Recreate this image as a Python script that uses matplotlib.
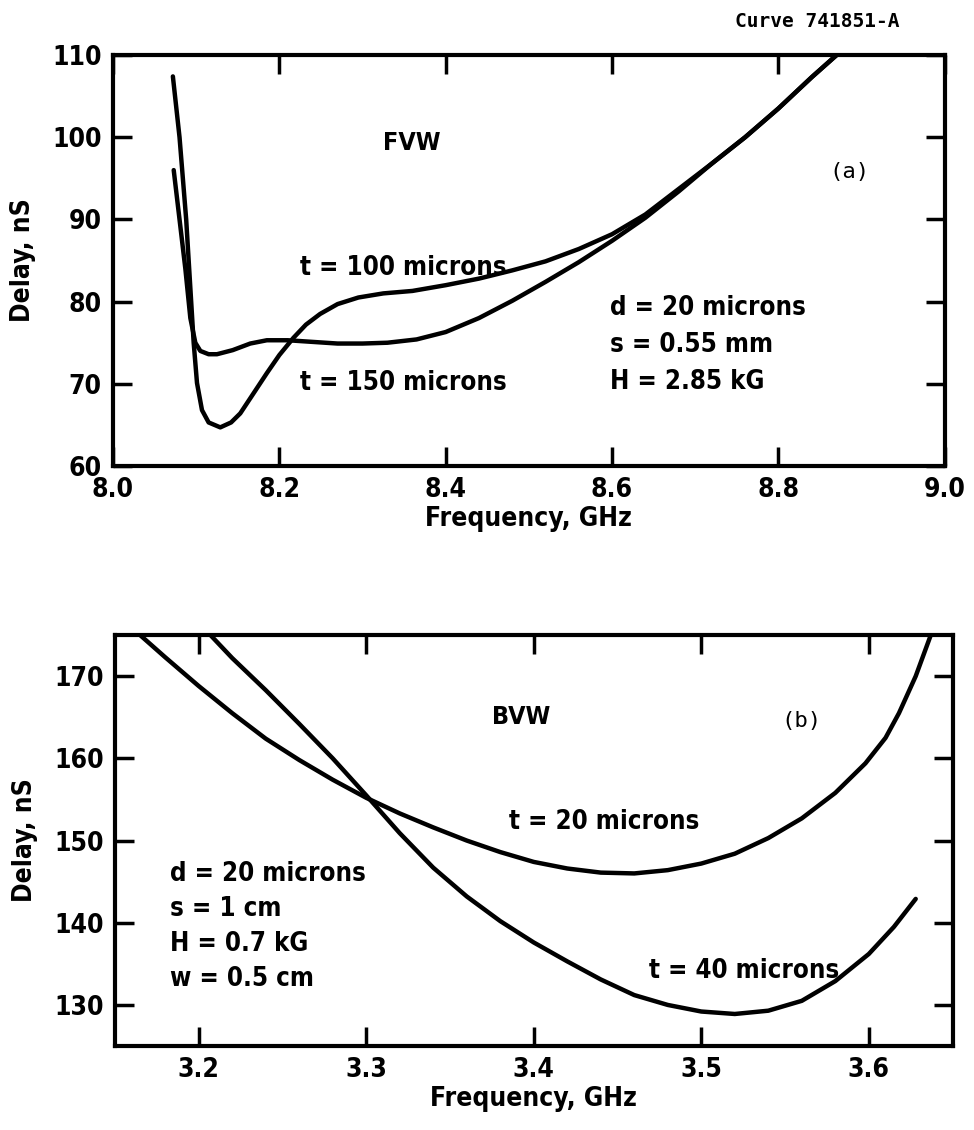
import matplotlib.pyplot as plt

# panel (a): forward volume wave delay vs frequency
freq_a1 = [8.072, 8.080, 8.088, 8.094, 8.097, 8.101, 8.107, 8.115, 8.129, 8.142,
           8.153, 8.170, 8.185, 8.200, 8.217, 8.232, 8.249, 8.270, 8.295, 8.325,
           8.360, 8.400, 8.440, 8.480, 8.520, 8.560, 8.600, 8.640, 8.680, 8.720,
           8.760, 8.800, 8.840, 8.870]
delay_a1 = [107.4, 100.0, 90.0, 80.0, 75.0, 70.1, 66.8, 65.3, 64.7, 65.3,
            66.4, 69.0, 71.3, 73.5, 75.6, 77.2, 78.5, 79.7, 80.5, 81.0,
            81.3, 82.0, 82.8, 83.8, 84.9, 86.4, 88.2, 90.6, 93.7, 96.8,
            100.0, 103.5, 107.3, 110.0]

freq_a2 = [8.073, 8.080, 8.087, 8.093, 8.099, 8.105, 8.115, 8.125, 8.144, 8.165,
           8.185, 8.210, 8.240, 8.270, 8.300, 8.330, 8.365, 8.400, 8.440, 8.480,
           8.520, 8.560, 8.600, 8.640, 8.680, 8.720, 8.760, 8.800, 8.840, 8.870]
delay_a2 = [96.0, 90.0, 84.0, 78.0, 75.0, 74.0, 73.6, 73.6, 74.1, 74.9,
            75.3, 75.3, 75.1, 74.9, 74.9, 75.0, 75.4, 76.3, 78.0, 80.1,
            82.4, 84.8, 87.4, 90.2, 93.4, 96.8, 100.0, 103.5, 107.3, 110.0]

# panel (b): backward volume wave delay vs frequency
freq_b20 = [3.165, 3.180, 3.200, 3.220, 3.240, 3.260, 3.280, 3.300, 3.320, 3.340,
            3.360, 3.380, 3.400, 3.420, 3.440, 3.460, 3.480, 3.500, 3.520, 3.540,
            3.560, 3.580, 3.598, 3.610, 3.618, 3.628, 3.637]
delay_b20 = [175.0, 172.3, 168.8, 165.5, 162.4, 159.8, 157.4, 155.2, 153.3, 151.6,
             150.0, 148.6, 147.4, 146.6, 146.1, 146.0, 146.4, 147.2, 148.4, 150.3,
             152.7, 155.8, 159.4, 162.5, 165.5, 170.0, 175.0]

freq_b40 = [3.207, 3.220, 3.240, 3.260, 3.280, 3.300, 3.320, 3.340, 3.360, 3.380,
            3.400, 3.420, 3.440, 3.460, 3.480, 3.500, 3.520, 3.540, 3.560, 3.580,
            3.600, 3.615, 3.628]
delay_b40 = [175.0, 172.2, 168.3, 164.2, 160.0, 155.5, 150.9, 146.7, 143.2, 140.2,
             137.6, 135.3, 133.1, 131.2, 130.0, 129.2, 128.9, 129.3, 130.5, 132.9,
             136.2, 139.5, 142.9]

xticks_a = [8.0, 8.2, 8.4, 8.6, 8.8, 9.0]
yticks_a = [60, 70, 80, 90, 100, 110]
xticks_b = [3.2, 3.3, 3.4, 3.5, 3.6]
yticks_b = [130, 140, 150, 160, 170]

plt.rcParams['font.family'] = ['DejaVu Sans']
plt.rcParams['font.stretch'] = 'condensed'
plt.rcParams['font.weight'] = 'bold'

fig = plt.figure(figsize=(9.74, 11.3), dpi=100)
ax1 = fig.add_axes([0.116, 0.5876, 0.854, 0.3637])
ax2 = fig.add_axes([0.118, 0.0743, 0.860, 0.3637])

lw = 3.2


def style(ax):
    for sp in ax.spines.values():
        sp.set_linewidth(3.0)
    ax.tick_params(direction='in', length=14, width=2.5, top=True, right=True,
                   labelsize=19, pad=8)
    for lab in ax.get_xticklabels() + ax.get_yticklabels():
        lab.set_fontweight('bold')
    ax.set_xlabel('Frequency, GHz', fontsize=19, fontweight='bold', labelpad=2)
    ax.set_ylabel('Delay, nS', fontsize=19, fontweight='bold', labelpad=12)


ax1.plot(freq_a1, delay_a1, color='black', lw=lw, solid_capstyle='round')
ax1.plot(freq_a2, delay_a2, color='black', lw=lw, solid_capstyle='round')
ax1.set_xlim(8.0, 9.0)
ax1.set_ylim(60, 110)
ax1.set_xticks(xticks_a)
ax1.set_yticks(yticks_a)
style(ax1)

ax1.text(8.359, 99.3, 'FVW', fontsize=18, ha='center', va='center')
ax1.text(8.225, 84.1, 't = 100 microns', fontsize=18.5, va='center')
ax1.text(8.225, 70.1, 't = 150 microns', fontsize=18.5, va='center')
ax1.text(8.597, 74.7, 'd = 20 microns\ns = 0.55 mm\nH = 2.85 kG', fontsize=18.5,
         va='center', linespacing=1.55)
ax1.text(8.885, 95.8, '(a)', fontsize=16, ha='center', va='center',
         family='DejaVu Sans Mono', fontweight='normal')

ax2.plot(freq_b20, delay_b20, color='black', lw=lw, solid_capstyle='round')
ax2.plot(freq_b40, delay_b40, color='black', lw=lw, solid_capstyle='round')
ax2.set_xlim(3.15, 3.65)
ax2.set_ylim(125, 175)
ax2.set_xticks(xticks_b)
ax2.set_yticks(yticks_b)
style(ax2)

ax2.text(3.3925, 165.0, 'BVW', fontsize=18, ha='center', va='center')
ax2.text(3.56, 164.6, '(b)', fontsize=16, ha='center', va='center',
         family='DejaVu Sans Mono', fontweight='normal')
ax2.text(3.385, 152.2, 't = 20 microns', fontsize=18.5, va='center')
ax2.text(3.469, 134.1, 't = 40 microns', fontsize=18.5, va='center')
ax2.text(3.183, 139.6, 'd = 20 microns\ns = 1 cm\nH = 0.7 kG\nw = 0.5 cm',
         fontsize=18.5, va='center', linespacing=1.45)

fig.text(0.755, 0.981, 'Curve 741851-A', fontsize=14, family='DejaVu Sans Mono',
         fontweight='bold', va='center')

fig.savefig('out.png', dpi=100)
